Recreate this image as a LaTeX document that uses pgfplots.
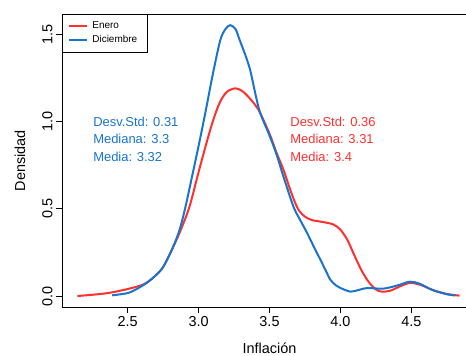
\documentclass[border=0pt]{standalone}
\usepackage{pgfplots}
\pgfplotsset{compat=1.18}
\usepackage{fontspec}
\setmainfont{Liberation Sans}
\newfontfamily\titlefont{Liberation Serif}
\definecolor{rojo}{RGB}{255,48,48}
\definecolor{azul}{RGB}{24,116,205}
\begin{document}
\begin{tikzpicture}
\begin{axis}[
  name=ax, at={(0,0)}, anchor=south west,
  scale only axis, width=415bp, height=293bp,
  xmin=2.037, xmax=4.963, ymin=-0.063, ymax=1.616,
  axis line style={line width=0.8bp},
  tick pos=left, tick align=outside, major tick length=6bp,
  tick style={line width=0.8bp, black},
  xtick={2.5,3,3.5,4,4.5}, xticklabels={2.5,3.0,3.5,4.0,4.5},
  ytick={0,0.5,1,1.5}, yticklabels={0.0,0.5,1.0,1.5},
  tick label style={font=\fontsize{14.5}{17}\selectfont},
  yticklabel style={rotate=90, anchor=south},
  xticklabel style={anchor=north},
  xlabel={Inflación}, ylabel={Densidad},
  label style={font=\fontsize{14.5}{17}\selectfont},
  xlabel style={at={(axis description cs:0.5,-0.158)}, anchor=base},
  ylabel style={at={(axis description cs:-0.101,0.5)}, anchor=center},
  legend style={at={(0,1)}, anchor=north west, draw=black, line width=0.8bp, fill=white,
    font=\fontsize{10}{12}\selectfont, inner xsep=5.5bp, inner ysep=5bp, column sep=0bp, row sep=0bp,
    nodes={inner xsep=4.5bp, inner ysep=2bp, text height=7.5bp, text depth=2.5bp}},
  legend cell align=left,
  legend image code/.code={\draw[#1] (0bp,0bp) -- (18bp,0bp);},
]
\addplot[rojo, line width=2bp, smooth] coordinates {
(2.146,0.000) (2.25,0.007) (2.37,0.018) (2.5,0.040) (2.61,0.066) (2.68,0.105) (2.75,0.166)
(2.82,0.28) (2.87,0.37) (2.935,0.51) (3.0,0.71) (3.05,0.86) (3.10,1.00) (3.15,1.11)
(3.20,1.17) (3.258,1.19) (3.30,1.178) (3.34,1.151) (3.42,1.07) (3.50,0.93)
(3.55,0.82) (3.60,0.72) (3.65,0.60) (3.70,0.50) (3.75,0.455) (3.80,0.435) (3.877,0.424)
(3.95,0.41) (4.0,0.38) (4.05,0.32) (4.1,0.23) (4.15,0.145) (4.2,0.08) (4.25,0.038) (4.29,0.025)
(4.35,0.03) (4.42,0.055) (4.49,0.075) (4.56,0.065) (4.65,0.035) (4.75,0.012) (4.84,0.002)
};
\addlegendentry{Enero}
\addplot[azul, line width=2bp, smooth] coordinates {
(2.39,0.004) (2.45,0.010) (2.52,0.022) (2.625,0.07) (2.70,0.12) (2.75,0.166) (2.82,0.28)
(2.87,0.39) (2.91,0.52) (2.95,0.67) (3.0,0.86) (3.05,1.06) (3.10,1.27) (3.153,1.466)
(3.19,1.53) (3.223,1.552) (3.26,1.53) (3.29,1.466) (3.33,1.38) (3.364,1.294)
(3.40,1.16) (3.434,1.05) (3.50,0.92) (3.55,0.81) (3.60,0.68) (3.67,0.51) (3.72,0.43)
(3.766,0.36) (3.82,0.27) (3.86,0.206) (3.90,0.14) (3.93,0.092) (3.97,0.06) (4.0,0.046)
(4.07,0.025) (4.13,0.035) (4.19,0.046) (4.30,0.042) (4.40,0.06) (4.49,0.082) (4.56,0.07)
(4.65,0.034) (4.75,0.01) (4.81,0.003)
};
\addlegendentry{Diciembre}
\node[anchor=west, text=azul, font=\fontsize{13}{15}\selectfont, inner sep=0pt] at (axis cs:2.256,0.997) {Desv.Std: 0.31};
\node[anchor=west, text=azul, font=\fontsize{13}{15}\selectfont, inner sep=0pt] at (axis cs:2.256,0.899) {Mediana: 3.3};
\node[anchor=west, text=azul, font=\fontsize{13}{15}\selectfont, inner sep=0pt] at (axis cs:2.256,0.796) {Media: 3.32};
\node[anchor=west, text=rojo, font=\fontsize{13}{15}\selectfont, inner sep=0pt] at (axis cs:3.646,0.997) {Desv.Std: 0.36};
\node[anchor=west, text=rojo, font=\fontsize{13}{15}\selectfont, inner sep=0pt] at (axis cs:3.646,0.899) {Mediana: 3.31};
\node[anchor=west, text=rojo, font=\fontsize{13}{15}\selectfont, inner sep=0pt] at (axis cs:3.646,0.796) {Media: 3.4};
\end{axis}
\node[font=\titlefont\bfseries\fontsize{13}{15}\selectfont, anchor=base, inner sep=0pt] at ([shift={(203bp,309bp)}]ax.south west) {Expectativas Inflación (12 meses) 2024};
\pgfresetboundingbox
\path[use as bounding box] ([shift={(-62bp,-49bp)}]ax.south west) rectangle ([shift={(404bp,307bp)}]ax.south west);
\end{tikzpicture}
\end{document}
